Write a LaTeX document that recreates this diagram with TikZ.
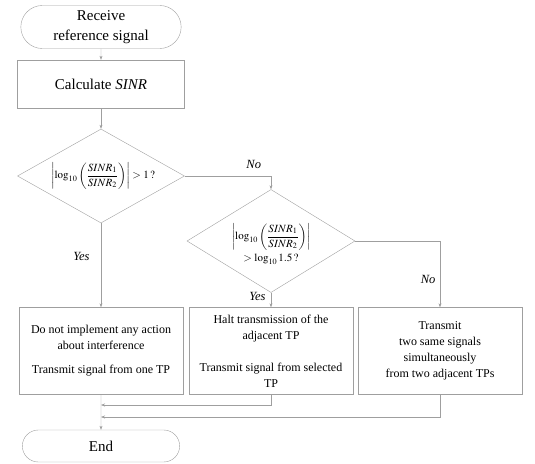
\documentclass[tikz,border=0pt]{standalone}
\usepackage{amsmath}
\usepackage{mathptmx}
\usepackage{fontspec}
\setmainfont{Liberation Serif}
\usetikzlibrary{shapes.geometric,shapes.misc,arrows.meta}

\begin{document}
\begin{tikzpicture}[x=1pt, y=-1pt,
    term/.style = {draw=gray!75, rounded rectangle, align=center, font=\fontsize{15}{20}\selectfont},
    proc/.style = {draw=gray!75, rectangle, minimum width=167pt, minimum height=48pt, font=\fontsize{15}{20}\selectfont},
    dec/.style = {draw=gray!75, diamond, inner sep=0pt},
    act/.style = {draw=gray!75, rectangle, minimum width=164pt, minimum height=87pt, align=center, font=\fontsize{12}{16}\selectfont},
    lbl/.style = {font=\fontsize{12.5}{15}\selectfont\itshape},
    line/.style = {draw=gray!75, -{Stealth[length=4pt,width=3pt]}}]
	\useasboundingbox (0,0) rectangle (535,463);
	\node[term, minimum width=167pt, minimum height=43pt] (start) at (101,27) {Receive\\reference signal};
	\node[proc] (calc) [below of=start, node distance=57pt] {Calculate \textit{SINR}};
	\node[dec, minimum width=167pt, minimum height=94pt] (d1) [below of=calc, node distance=92pt] {};
	\node[font=\fontsize{11}{13}\selectfont] (q1) at (103,176) {$\left|\log_{10}\left(\dfrac{SINR_1}{SINR_2}\right)\right|>1\,?$};
	\node[dec, minimum width=168pt, minimum height=103pt] (d2) at (271,241) {};
	\node[align=center, font=\fontsize{11}{13}\selectfont] (q2) at (271,244) {$\left|\log_{10}\left(\dfrac{SINR_1}{SINR_2}\right)\right|$\\[3pt]$>\log_{10}1.5\,?$};
	\node[act] (b1) at (101,351) {Do not implement any action\\about interference\\[8pt]Transmit signal from one TP};
	\node[act] (b2) [right of=b1, node distance=170pt] {Halt transmission of the\\adjacent TP\\[16pt]Transmit signal from selected\\TP};
	\node[act] (b3) [right of=b2, node distance=169pt] {Transmit\\two same signals\\simultaneously\\from two adjacent TPs};
	\node[term, minimum width=164pt, minimum height=32pt] (end) at (101,446) {End};
	\coordinate (m1) at (101,405);
	\coordinate (m2) at (101,417);
	\draw[line] (start) -- (calc);
	\draw[line] (calc) -- (d1);
	\draw[line] (d1.east) -| node[lbl, pos=0.4, above=4pt] {No} (d2.north);
	\draw[line] (d1.south) -- node[lbl, pos=0.4, left=8pt] {Yes} (b1.north);
	\draw[line] (d2.south) -- node[lbl, pos=0.25, left=2pt] {Yes} (b2.north);
	\draw[line] (d2.east) -| node[lbl, pos=0.79, left=1pt] {No} (b3.north);
	\draw[line] (b1) -- (end);
	\draw[line] (b2.south) |- (m1);
	\draw[line] (b3.south) |- (m2);
\end{tikzpicture}
\end{document}
